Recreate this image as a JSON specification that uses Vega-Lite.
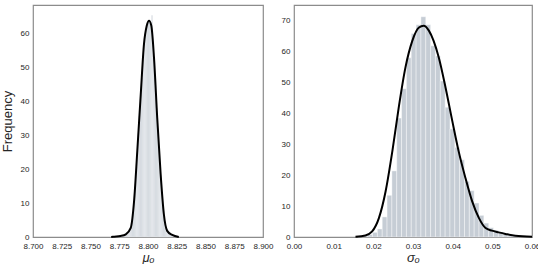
{
  "$schema": "https://vega.github.io/schema/vega-lite/v6.json",
  "padding": {"left": 0, "top": 4, "right": 0, "bottom": 0},
  "background": "white",
  "spacing": 31,
  "bounds": "flush",
  "config": {
    "font": "Liberation Sans",
    "view": {"stroke": "#8c8c8c", "strokeWidth": 1.2},
    "axis": {"grid": false, "domain": false, "ticks": false, "labelFontSize": 8, "labelColor": "#262626", "labelPadding": 4, "labelOverlap": false, "labelFlush": false, "titleColor": "#262626", "titleFontWeight": "normal"},
    "axisX": {"labelPadding": 5}
  },
  "datasets": {
    "histL": [
      {"b0": 8.770, "b1": 8.771, "n": 0.0},
      {"b0": 8.771, "b1": 8.772, "n": 0.1},
      {"b0": 8.772, "b1": 8.773, "n": 0.1},
      {"b0": 8.773, "b1": 8.774, "n": 0.2},
      {"b0": 8.774, "b1": 8.775, "n": 0.2},
      {"b0": 8.775, "b1": 8.776, "n": 0.3},
      {"b0": 8.776, "b1": 8.777, "n": 0.4},
      {"b0": 8.777, "b1": 8.778, "n": 0.5},
      {"b0": 8.778, "b1": 8.779, "n": 0.6},
      {"b0": 8.779, "b1": 8.780, "n": 0.7},
      {"b0": 8.780, "b1": 8.781, "n": 0.9},
      {"b0": 8.781, "b1": 8.782, "n": 1.1},
      {"b0": 8.782, "b1": 8.783, "n": 1.4},
      {"b0": 8.783, "b1": 8.784, "n": 1.8},
      {"b0": 8.784, "b1": 8.785, "n": 2.4},
      {"b0": 8.785, "b1": 8.786, "n": 4.0},
      {"b0": 8.786, "b1": 8.787, "n": 6.8},
      {"b0": 8.787, "b1": 8.788, "n": 9.8},
      {"b0": 8.788, "b1": 8.789, "n": 14.5},
      {"b0": 8.789, "b1": 8.790, "n": 19.5},
      {"b0": 8.790, "b1": 8.791, "n": 24.8},
      {"b0": 8.791, "b1": 8.792, "n": 30.5},
      {"b0": 8.792, "b1": 8.793, "n": 35.6},
      {"b0": 8.793, "b1": 8.794, "n": 41.2},
      {"b0": 8.794, "b1": 8.795, "n": 46.3},
      {"b0": 8.795, "b1": 8.796, "n": 51.9},
      {"b0": 8.796, "b1": 8.797, "n": 56.1},
      {"b0": 8.797, "b1": 8.798, "n": 59.4},
      {"b0": 8.798, "b1": 8.799, "n": 61.5},
      {"b0": 8.799, "b1": 8.800, "n": 63.0},
      {"b0": 8.800, "b1": 8.801, "n": 63.6},
      {"b0": 8.801, "b1": 8.802, "n": 63.2},
      {"b0": 8.802, "b1": 8.803, "n": 62.4},
      {"b0": 8.803, "b1": 8.804, "n": 65.3},
      {"b0": 8.804, "b1": 8.805, "n": 56.8},
      {"b0": 8.805, "b1": 8.806, "n": 51.0},
      {"b0": 8.806, "b1": 8.807, "n": 44.8},
      {"b0": 8.807, "b1": 8.808, "n": 38.0},
      {"b0": 8.808, "b1": 8.809, "n": 32.1},
      {"b0": 8.809, "b1": 8.810, "n": 26.3},
      {"b0": 8.810, "b1": 8.811, "n": 21.0},
      {"b0": 8.811, "b1": 8.812, "n": 15.9},
      {"b0": 8.812, "b1": 8.813, "n": 11.5},
      {"b0": 8.813, "b1": 8.814, "n": 7.6},
      {"b0": 8.814, "b1": 8.815, "n": 4.8},
      {"b0": 8.815, "b1": 8.816, "n": 3.1},
      {"b0": 8.816, "b1": 8.817, "n": 2.0},
      {"b0": 8.817, "b1": 8.818, "n": 1.4},
      {"b0": 8.818, "b1": 8.819, "n": 1.0},
      {"b0": 8.819, "b1": 8.820, "n": 0.8},
      {"b0": 8.820, "b1": 8.821, "n": 0.6},
      {"b0": 8.821, "b1": 8.822, "n": 0.4},
      {"b0": 8.822, "b1": 8.823, "n": 0.3},
      {"b0": 8.823, "b1": 8.824, "n": 0.2},
      {"b0": 8.824, "b1": 8.825, "n": 0.1}
    ],
    "kdeL": [
      {"x": 8.7680, "d": 0.0},
      {"x": 8.7706, "d": 0.1},
      {"x": 8.7760, "d": 0.3},
      {"x": 8.7807, "d": 0.8},
      {"x": 8.7850, "d": 2.7},
      {"x": 8.7879, "d": 10.6},
      {"x": 8.7907, "d": 25.4},
      {"x": 8.7937, "d": 42.0},
      {"x": 8.7965, "d": 56.8},
      {"x": 8.7989, "d": 62.2},
      {"x": 8.8009, "d": 63.7},
      {"x": 8.8029, "d": 62.2},
      {"x": 8.8052, "d": 52.9},
      {"x": 8.8080, "d": 35.2},
      {"x": 8.8110, "d": 18.5},
      {"x": 8.8138, "d": 6.7},
      {"x": 8.8167, "d": 1.8},
      {"x": 8.8210, "d": 0.6},
      {"x": 8.8268, "d": 0.0}
    ],
    "histR": [
      {"b0": 0.01614, "b1": 0.01736, "n": 0.3},
      {"b0": 0.01736, "b1": 0.01858, "n": 0.5},
      {"b0": 0.01858, "b1": 0.0198, "n": 0.8},
      {"b0": 0.0198, "b1": 0.02102, "n": 1.5},
      {"b0": 0.02102, "b1": 0.02224, "n": 2.6},
      {"b0": 0.02224, "b1": 0.02346, "n": 6.5},
      {"b0": 0.02346, "b1": 0.02468, "n": 13.5},
      {"b0": 0.02468, "b1": 0.0259, "n": 21.4},
      {"b0": 0.0259, "b1": 0.02712, "n": 38.5},
      {"b0": 0.02712, "b1": 0.02834, "n": 48.0},
      {"b0": 0.02834, "b1": 0.02956, "n": 58.0},
      {"b0": 0.02956, "b1": 0.03078, "n": 65.9},
      {"b0": 0.03078, "b1": 0.032, "n": 68.7},
      {"b0": 0.032, "b1": 0.03322, "n": 71.3},
      {"b0": 0.03322, "b1": 0.03444, "n": 68.7},
      {"b0": 0.03444, "b1": 0.03566, "n": 61.9},
      {"b0": 0.03566, "b1": 0.03688, "n": 58.6},
      {"b0": 0.03688, "b1": 0.0381, "n": 50.5},
      {"b0": 0.0381, "b1": 0.03932, "n": 42.0},
      {"b0": 0.03932, "b1": 0.04054, "n": 35.0},
      {"b0": 0.04054, "b1": 0.04176, "n": 29.0},
      {"b0": 0.04176, "b1": 0.04298, "n": 25.0},
      {"b0": 0.04298, "b1": 0.0442, "n": 18.0},
      {"b0": 0.0442, "b1": 0.04542, "n": 15.0},
      {"b0": 0.04542, "b1": 0.04664, "n": 11.0},
      {"b0": 0.04664, "b1": 0.04786, "n": 7.0},
      {"b0": 0.04786, "b1": 0.04908, "n": 4.5},
      {"b0": 0.04908, "b1": 0.0503, "n": 3.0},
      {"b0": 0.0503, "b1": 0.05152, "n": 2.2},
      {"b0": 0.05152, "b1": 0.05274, "n": 1.6},
      {"b0": 0.05274, "b1": 0.05396, "n": 1.2},
      {"b0": 0.05396, "b1": 0.05518, "n": 0.8},
      {"b0": 0.05518, "b1": 0.0564, "n": 0.5},
      {"b0": 0.0564, "b1": 0.05762, "n": 0.3},
      {"b0": 0.05762, "b1": 0.05884, "n": 0.2},
      {"b0": 0.05884, "b1": 0.06, "n": 0.1}
    ],
    "kdeR": [
      {"x": 0.0155, "d": 0.1},
      {"x": 0.0180, "d": 0.5},
      {"x": 0.0197, "d": 1.8},
      {"x": 0.0214, "d": 6.1},
      {"x": 0.0231, "d": 14.8},
      {"x": 0.0248, "d": 27.8},
      {"x": 0.0264, "d": 41.9},
      {"x": 0.0281, "d": 54.9},
      {"x": 0.0298, "d": 63.4},
      {"x": 0.0315, "d": 67.8},
      {"x": 0.0327, "d": 68.4},
      {"x": 0.0340, "d": 66.8},
      {"x": 0.0352, "d": 63.5},
      {"x": 0.0365, "d": 58.1},
      {"x": 0.0382, "d": 48.4},
      {"x": 0.0399, "d": 37.6},
      {"x": 0.0415, "d": 27.8},
      {"x": 0.0432, "d": 19.2},
      {"x": 0.0449, "d": 11.6},
      {"x": 0.0466, "d": 6.2},
      {"x": 0.0483, "d": 2.9},
      {"x": 0.0499, "d": 2.05},
      {"x": 0.0516, "d": 1.5},
      {"x": 0.0533, "d": 1.0},
      {"x": 0.0558, "d": 0.4},
      {"x": 0.0600, "d": 0.1}
    ]
  },
  "hconcat": [
    {
      "width": 230,
      "height": 232,
      "layer": [
        {
          "data": {"name": "histL"},
          "mark": {"type": "rect", "fill": "#c6cdd5", "stroke": "white", "strokeWidth": 0.3},
          "encoding": {
            "x": {"field": "b0", "type": "quantitative", "scale": {"domain": [8.7, 8.9], "nice": false, "zero": false},
                  "axis": {"values": [8.7, 8.725, 8.75, 8.775, 8.8, 8.825, 8.85, 8.875, 8.9], "format": ".3f", "title": "μₒ", "titleFontSize": 13, "titleFontStyle": "italic", "titlePadding": 1}},
            "x2": {"field": "b1"},
            "y": {"field": "n", "type": "quantitative", "scale": {"domain": [0, 68.3], "nice": false},
                  "axis": {"values": [0, 10, 20, 30, 40, 50, 60], "title": "Frequency", "titleFontSize": 13, "titlePadding": 6}},
            "y2": {"datum": 0}
          }
        },
        {
          "data": {"name": "kdeL"},
          "mark": {"type": "line", "color": "black", "strokeWidth": 2, "interpolate": "monotone"},
          "encoding": {
            "x": {"field": "x", "type": "quantitative",
                  "axis": {"values": [8.7, 8.725, 8.75, 8.775, 8.8, 8.825, 8.85, 8.875, 8.9], "format": ".3f", "title": "μₒ", "titleFontSize": 13, "titleFontStyle": "italic", "titlePadding": 1}},
            "y": {"field": "d", "type": "quantitative",
                  "axis": {"values": [0, 10, 20, 30, 40, 50, 60], "title": "Frequency", "titleFontSize": 13, "titlePadding": 6}}
          }
        }
      ]
    },
    {
      "width": 238,
      "height": 232,
      "layer": [
        {
          "data": {"name": "histR"},
          "mark": {"type": "rect", "fill": "#c6cdd5", "stroke": "white", "strokeWidth": 0.4},
          "encoding": {
            "x": {"field": "b0", "type": "quantitative", "scale": {"domain": [0, 0.06], "nice": false},
                  "axis": {"values": [0, 0.01, 0.02, 0.03, 0.04, 0.05, 0.06], "format": ".2f", "title": "σₒ", "titleFontSize": 13, "titleFontStyle": "italic", "titlePadding": 1}},
            "x2": {"field": "b1"},
            "y": {"field": "n", "type": "quantitative", "scale": {"domain": [0, 75.1], "nice": false},
                  "axis": {"values": [0, 10, 20, 30, 40, 50, 60, 70], "title": null}},
            "y2": {"datum": 0}
          }
        },
        {
          "data": {"name": "kdeR"},
          "mark": {"type": "line", "color": "black", "strokeWidth": 2, "interpolate": "monotone"},
          "encoding": {
            "x": {"field": "x", "type": "quantitative",
                  "axis": {"values": [0, 0.01, 0.02, 0.03, 0.04, 0.05, 0.06], "format": ".2f", "title": "σₒ", "titleFontSize": 13, "titleFontStyle": "italic", "titlePadding": 1}},
            "y": {"field": "d", "type": "quantitative",
                  "axis": {"values": [0, 10, 20, 30, 40, 50, 60, 70], "title": null}}
          }
        }
      ]
    }
  ]
}
